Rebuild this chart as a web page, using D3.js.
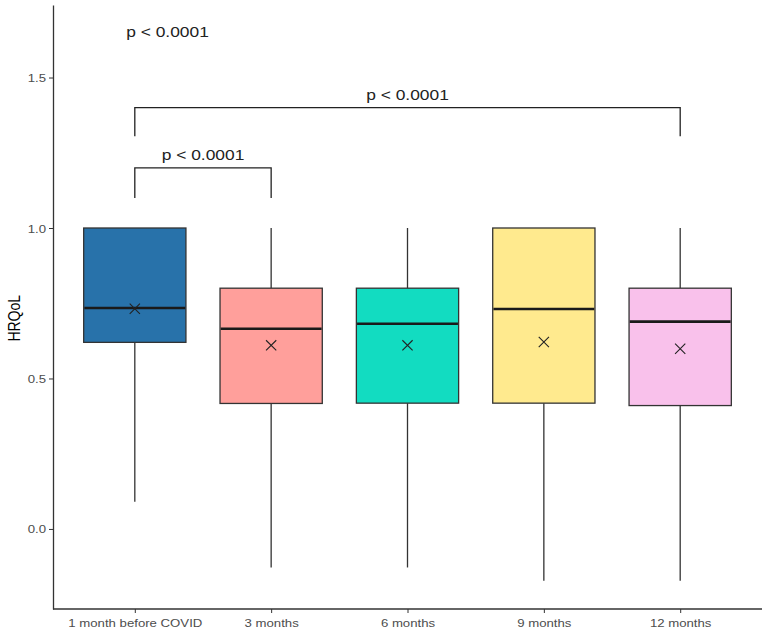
<!DOCTYPE html>
<html>
<head>
<meta charset="utf-8">
<script src="https://cdn.jsdelivr.net/npm/d3@7"></script>
<style>
  body { margin: 0; background: #fff; }
  text { font-family: "Liberation Sans", Arial, sans-serif; }
</style>
</head>
<body>
<svg id="chart" width="768" height="634"></svg>
<script>
/* Boxplot of HRQoL over time, with p-value brackets. The source image is
   stretched a little horizontally, so text gets a scaleX to match. */

const groups = ['1 month before COVID', '3 months', '6 months', '9 months', '12 months'];
const q1 = [0.62, 0.417, 0.418, 0.418, 0.41];
const median = [0.734, 0.665, 0.682, 0.731, 0.689];
const q3 = [1.0, 0.8, 0.8, 1.0, 0.8];
const whiskerLow = [0.09, -0.128, -0.128, -0.172, -0.172];
const whiskerHigh = [1.0, 1.0, 1.0, 1.0, 1.0];
const mean = [0.732, 0.61, 0.61, 0.621, 0.599];
const fills = ['#2872aa', '#ff9f9b', '#12dcc1', '#ffea8e', '#f9c1eb'];
const yTicks = [0.0, 0.5, 1.0, 1.5];

// comparisons: [from, to, bar level, leg bottom, label]
const brackets = [
    {from: 0, to: 1, level: 1.2, legEnd: 1.1, label: 'p < 0.0001'},
    {from: 0, to: 4, level: 1.4, legEnd: 1.305, label: 'p < 0.0001'}
];
const globalLabel = {group: 0.24, value: 1.65, label: 'p < 0.0001'};

const STRETCH = 1.2;
const margin = {left: 53, right: 6, top: 5, bottom: 25};
const width = 768, height = 634;

const svg = d3.select('#chart');

const x = d3.scalePoint()
    .domain(groups)
    .range([margin.left, width - margin.right])
    .padding(0.6);
const boxWidth = x.step() * 0.75;

const y = d3.scaleLinear()
    .domain([-0.266, 1.741])
    .range([height - margin.bottom, margin.top]);

function stretchedText(g, px, py, str, size, anchor) {
    return g.append('text')
        .attr('transform', `translate(${px},${py}) scale(${STRETCH},1)`)
        .attr('text-anchor', anchor || 'middle')
        .style('font-size', size + 'px')
        .text(str);
}

// axes
const yAxis = svg.append('g')
    .attr('transform', `translate(${margin.left},0)`)
    .call(d3.axisLeft(y).tickValues(yTicks).tickFormat(d3.format('.1f')).tickSize(4).tickSizeOuter(0));
yAxis.select('.domain').attr('stroke', '#333').attr('stroke-width', 1.3);
yAxis.selectAll('.tick line').attr('stroke', '#333');
yAxis.selectAll('.tick text').remove();
yAxis.selectAll('.tick').each(function(d) {
    stretchedText(d3.select(this), -7, 4, d3.format('.1f')(d), 11, 'end').attr('fill', '#4d4d4d');
});

const xAxis = svg.append('g')
    .attr('transform', `translate(0,${height - margin.bottom})`)
    .call(d3.axisBottom(x).tickSize(4).tickSizeOuter(0));
xAxis.select('.domain').attr('stroke', '#333').attr('stroke-width', 1.3)
    .attr('d', `M${margin.left},0H${width - margin.right}`);
xAxis.selectAll('.tick line').attr('stroke', '#333');
xAxis.selectAll('.tick text').remove();
xAxis.selectAll('.tick').each(function(d) {
    stretchedText(d3.select(this), 0, 18, d, 11).attr('fill', '#4d4d4d');
});

svg.append('text')
    .attr('transform', `translate(20,${y(0.7)}) rotate(-90) scale(1,${STRETCH})`)
    .attr('text-anchor', 'middle')
    .style('font-size', '14px')
    .attr('fill', '#000')
    .text('HRQoL');

// boxes
const boxes = svg.append('g').selectAll('g')
    .data(groups)
    .join('g');

boxes.append('line')
    .attr('x1', d => x(d)).attr('x2', d => x(d))
    .attr('y1', (d, i) => y(whiskerLow[i]))
    .attr('y2', (d, i) => y(q1[i]))
    .attr('stroke', '#333').attr('stroke-width', 1.3);
boxes.append('line')
    .attr('x1', d => x(d)).attr('x2', d => x(d))
    .attr('y1', (d, i) => y(q3[i]))
    .attr('y2', (d, i) => y(whiskerHigh[i]))
    .attr('stroke', '#333').attr('stroke-width', 1.3);
boxes.append('rect')
    .attr('x', d => x(d) - boxWidth / 2)
    .attr('width', boxWidth)
    .attr('y', (d, i) => y(q3[i]))
    .attr('height', (d, i) => y(q1[i]) - y(q3[i]))
    .attr('fill', (d, i) => fills[i])
    .attr('stroke', '#333').attr('stroke-width', 1.3);
boxes.append('line')
    .attr('x1', d => x(d) - boxWidth / 2 + 0.7)
    .attr('x2', d => x(d) + boxWidth / 2 - 0.7)
    .attr('y1', (d, i) => y(median[i]))
    .attr('y2', (d, i) => y(median[i]))
    .attr('stroke', '#1a1a1a').attr('stroke-width', 2.6);

// mean marks
const cross = d3.symbol().type(d3.symbolX).size(70);
boxes.append('path')
    .attr('d', cross)
    .attr('transform', (d, i) => `translate(${x(d)},${y(mean[i])})`)
    .attr('fill', 'none')
    .attr('stroke', '#222').attr('stroke-width', 1.1);

// brackets
const bg = svg.append('g');
brackets.forEach(b => {
    const x1 = x(groups[b.from]), x2 = x(groups[b.to]);
    bg.append('path')
        .attr('d', `M${x1},${y(b.legEnd)}V${y(b.level)}H${x2}V${y(b.legEnd)}`)
        .attr('fill', 'none')
        .attr('stroke', '#222').attr('stroke-width', 1.3);
    stretchedText(bg, (x1 + x2) / 2, y(b.level) - 8, b.label, 14.5).attr('fill', '#222');
});

const gx = x(groups[0]) + globalLabel.group * x.step();
stretchedText(svg, gx, y(globalLabel.value) + 5, globalLabel.label, 14.5).attr('fill', '#222');
</script>
</body>
</html>
